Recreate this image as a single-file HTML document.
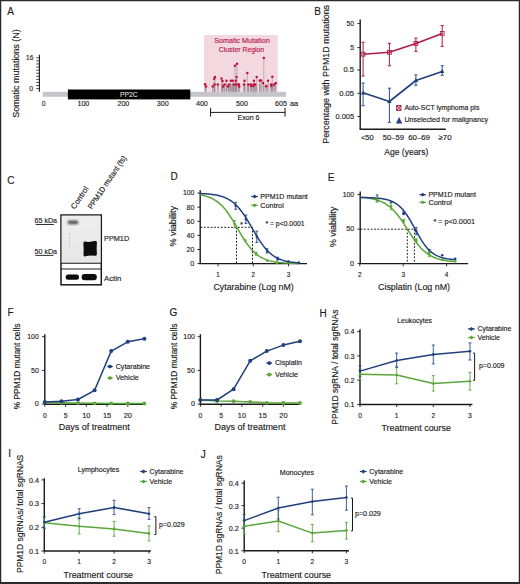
<!DOCTYPE html>
<html><head><meta charset="utf-8"><style>
html,body{margin:0;padding:0;background:#fff;overflow:hidden;}
svg{display:block;}
text{font-family:"Liberation Sans", sans-serif;}
</style></head><body>
<svg width="520" height="584" viewBox="0 0 520 584">
<rect x="0.00" y="0.00" width="520.00" height="584.00" fill="#ffffff" />
<text x="7.30" y="14.50" font-size="10" fill="#1a1a1a" stroke="#1a1a1a" stroke-width="0.15" >A</text>
<text x="18.90" y="73.55" font-size="9.48" fill="#1a1a1a" stroke="#1a1a1a" stroke-width="0.15" text-anchor="middle" textLength="88.50" lengthAdjust="spacingAndGlyphs" transform="rotate(-90 18.90 73.55)" >Somatic mutations (N)</text>
<line x1="39.40" y1="54.80" x2="39.40" y2="91.80" stroke="#1a1a1a" stroke-width="1.1" />
<line x1="36.20" y1="57.80" x2="39.40" y2="57.80" stroke="#1a1a1a" stroke-width="0.8" />
<line x1="36.20" y1="60.88" x2="39.40" y2="60.88" stroke="#1a1a1a" stroke-width="0.8" />
<line x1="36.20" y1="63.96" x2="39.40" y2="63.96" stroke="#1a1a1a" stroke-width="0.8" />
<line x1="36.20" y1="67.04" x2="39.40" y2="67.04" stroke="#1a1a1a" stroke-width="0.8" />
<line x1="36.20" y1="70.12" x2="39.40" y2="70.12" stroke="#1a1a1a" stroke-width="0.8" />
<line x1="36.20" y1="73.20" x2="39.40" y2="73.20" stroke="#1a1a1a" stroke-width="0.8" />
<line x1="36.20" y1="76.28" x2="39.40" y2="76.28" stroke="#1a1a1a" stroke-width="0.8" />
<line x1="36.20" y1="79.36" x2="39.40" y2="79.36" stroke="#1a1a1a" stroke-width="0.8" />
<line x1="36.20" y1="82.44" x2="39.40" y2="82.44" stroke="#1a1a1a" stroke-width="0.8" />
<line x1="36.20" y1="85.52" x2="39.40" y2="85.52" stroke="#1a1a1a" stroke-width="0.8" />
<line x1="36.20" y1="88.60" x2="39.40" y2="88.60" stroke="#1a1a1a" stroke-width="0.8" />
<text x="33.30" y="60.06" font-size="7.6" fill="#1a1a1a" stroke="#1a1a1a" stroke-width="0.15" text-anchor="end" textLength="7.30" lengthAdjust="spacingAndGlyphs" >16</text>
<text x="33.10" y="90.86" font-size="7.6" fill="#1a1a1a" stroke="#1a1a1a" stroke-width="0.15" text-anchor="end" textLength="3.80" lengthAdjust="spacingAndGlyphs" >0</text>
<rect x="42.70" y="91.80" width="243.20" height="5.00" fill="#c5c4c9" />
<rect x="204.00" y="35.00" width="73.70" height="56.80" fill="#f3d8e0" />
<text x="241.90" y="43.36" font-size="7.4" fill="#b5194b" stroke="#b5194b" stroke-width="0.15" text-anchor="middle" textLength="55.50" lengthAdjust="spacingAndGlyphs" >Somatic Mutation</text>
<text x="241.50" y="52.06" font-size="7.05" fill="#b5194b" stroke="#b5194b" stroke-width="0.15" text-anchor="middle" textLength="45.30" lengthAdjust="spacingAndGlyphs" >Cluster Region</text>
<line x1="205.00" y1="84.20" x2="205.00" y2="91.80" stroke="#a89aa0" stroke-width="0.7" />
<line x1="206.00" y1="86.50" x2="206.00" y2="91.80" stroke="#a89aa0" stroke-width="0.7" />
<line x1="212.70" y1="86.50" x2="212.70" y2="91.80" stroke="#a89aa0" stroke-width="0.7" />
<line x1="214.20" y1="78.80" x2="214.20" y2="91.80" stroke="#a89aa0" stroke-width="0.7" />
<line x1="215.00" y1="76.90" x2="215.00" y2="91.80" stroke="#a89aa0" stroke-width="0.7" />
<line x1="214.60" y1="84.60" x2="214.60" y2="91.80" stroke="#a89aa0" stroke-width="0.7" />
<line x1="217.80" y1="84.60" x2="217.80" y2="91.80" stroke="#a89aa0" stroke-width="0.7" />
<line x1="221.50" y1="78.50" x2="221.50" y2="91.80" stroke="#a89aa0" stroke-width="0.7" />
<line x1="222.50" y1="81.00" x2="222.50" y2="91.80" stroke="#a89aa0" stroke-width="0.7" />
<line x1="223.00" y1="86.50" x2="223.00" y2="91.80" stroke="#a89aa0" stroke-width="0.7" />
<line x1="224.50" y1="84.40" x2="224.50" y2="91.80" stroke="#a89aa0" stroke-width="0.7" />
<line x1="226.50" y1="80.80" x2="226.50" y2="91.80" stroke="#a89aa0" stroke-width="0.7" />
<line x1="228.00" y1="86.50" x2="228.00" y2="91.80" stroke="#a89aa0" stroke-width="0.7" />
<line x1="229.00" y1="84.60" x2="229.00" y2="91.80" stroke="#a89aa0" stroke-width="0.7" />
<line x1="230.80" y1="80.80" x2="230.80" y2="91.80" stroke="#a89aa0" stroke-width="0.7" />
<line x1="232.70" y1="80.80" x2="232.70" y2="91.80" stroke="#a89aa0" stroke-width="0.7" />
<line x1="233.80" y1="84.60" x2="233.80" y2="91.80" stroke="#a89aa0" stroke-width="0.7" />
<line x1="235.00" y1="65.80" x2="235.00" y2="91.80" stroke="#a89aa0" stroke-width="0.7" />
<line x1="237.00" y1="63.80" x2="237.00" y2="91.80" stroke="#a89aa0" stroke-width="0.7" />
<line x1="236.50" y1="76.90" x2="236.50" y2="91.80" stroke="#a89aa0" stroke-width="0.7" />
<line x1="235.80" y1="80.80" x2="235.80" y2="91.80" stroke="#a89aa0" stroke-width="0.7" />
<line x1="236.00" y1="84.60" x2="236.00" y2="91.80" stroke="#a89aa0" stroke-width="0.7" />
<line x1="238.50" y1="84.60" x2="238.50" y2="91.80" stroke="#a89aa0" stroke-width="0.7" />
<line x1="239.20" y1="86.50" x2="239.20" y2="91.80" stroke="#a89aa0" stroke-width="0.7" />
<line x1="238.80" y1="84.50" x2="238.80" y2="91.80" stroke="#a89aa0" stroke-width="0.7" />
<line x1="244.50" y1="80.80" x2="244.50" y2="91.80" stroke="#a89aa0" stroke-width="0.7" />
<line x1="244.00" y1="84.50" x2="244.00" y2="91.80" stroke="#a89aa0" stroke-width="0.7" />
<line x1="247.30" y1="72.90" x2="247.30" y2="91.80" stroke="#a89aa0" stroke-width="0.7" />
<line x1="248.50" y1="84.50" x2="248.50" y2="91.80" stroke="#a89aa0" stroke-width="0.7" />
<line x1="251.00" y1="84.50" x2="251.00" y2="91.80" stroke="#a89aa0" stroke-width="0.7" />
<line x1="251.30" y1="86.10" x2="251.30" y2="91.80" stroke="#a89aa0" stroke-width="0.7" />
<line x1="254.00" y1="80.80" x2="254.00" y2="91.80" stroke="#a89aa0" stroke-width="0.7" />
<line x1="253.80" y1="84.50" x2="253.80" y2="91.80" stroke="#a89aa0" stroke-width="0.7" />
<line x1="255.00" y1="84.50" x2="255.00" y2="91.80" stroke="#a89aa0" stroke-width="0.7" />
<line x1="253.30" y1="86.10" x2="253.30" y2="91.80" stroke="#a89aa0" stroke-width="0.7" />
<line x1="256.70" y1="77.00" x2="256.70" y2="91.80" stroke="#a89aa0" stroke-width="0.7" />
<line x1="259.80" y1="80.40" x2="259.80" y2="91.80" stroke="#a89aa0" stroke-width="0.7" />
<line x1="261.00" y1="80.40" x2="261.00" y2="91.80" stroke="#a89aa0" stroke-width="0.7" />
<line x1="263.80" y1="58.10" x2="263.80" y2="91.80" stroke="#a89aa0" stroke-width="0.7" />
<line x1="263.00" y1="82.90" x2="263.00" y2="91.80" stroke="#a89aa0" stroke-width="0.7" />
<line x1="266.10" y1="86.30" x2="266.10" y2="91.80" stroke="#a89aa0" stroke-width="0.7" />
<line x1="268.00" y1="80.80" x2="268.00" y2="91.80" stroke="#a89aa0" stroke-width="0.7" />
<line x1="272.30" y1="76.80" x2="272.30" y2="91.80" stroke="#a89aa0" stroke-width="0.7" />
<line x1="271.10" y1="84.50" x2="271.10" y2="91.80" stroke="#a89aa0" stroke-width="0.7" />
<line x1="274.00" y1="84.50" x2="274.00" y2="91.80" stroke="#a89aa0" stroke-width="0.7" />
<line x1="275.80" y1="82.90" x2="275.80" y2="91.80" stroke="#a89aa0" stroke-width="0.7" />
<line x1="271.50" y1="86.10" x2="271.50" y2="91.80" stroke="#a89aa0" stroke-width="0.7" />
<line x1="205.50" y1="84.00" x2="205.50" y2="91.80" stroke="#8a8088" stroke-width="0.6" />
<line x1="213.00" y1="84.00" x2="213.00" y2="91.80" stroke="#8a8088" stroke-width="0.6" />
<line x1="214.50" y1="84.00" x2="214.50" y2="91.80" stroke="#8a8088" stroke-width="0.6" />
<line x1="218.00" y1="84.00" x2="218.00" y2="91.80" stroke="#8a8088" stroke-width="0.6" />
<line x1="221.80" y1="84.00" x2="221.80" y2="91.80" stroke="#8a8088" stroke-width="0.6" />
<line x1="223.00" y1="84.00" x2="223.00" y2="91.80" stroke="#8a8088" stroke-width="0.6" />
<line x1="225.00" y1="84.00" x2="225.00" y2="91.80" stroke="#8a8088" stroke-width="0.6" />
<line x1="226.50" y1="84.00" x2="226.50" y2="91.80" stroke="#8a8088" stroke-width="0.6" />
<line x1="228.30" y1="84.00" x2="228.30" y2="91.80" stroke="#8a8088" stroke-width="0.6" />
<line x1="229.50" y1="84.00" x2="229.50" y2="91.80" stroke="#8a8088" stroke-width="0.6" />
<line x1="230.50" y1="84.00" x2="230.50" y2="91.80" stroke="#8a8088" stroke-width="0.6" />
<line x1="231.50" y1="84.00" x2="231.50" y2="91.80" stroke="#8a8088" stroke-width="0.6" />
<line x1="232.50" y1="84.00" x2="232.50" y2="91.80" stroke="#8a8088" stroke-width="0.6" />
<line x1="233.50" y1="84.00" x2="233.50" y2="91.80" stroke="#8a8088" stroke-width="0.6" />
<line x1="234.50" y1="84.00" x2="234.50" y2="91.80" stroke="#8a8088" stroke-width="0.6" />
<line x1="235.50" y1="84.00" x2="235.50" y2="91.80" stroke="#8a8088" stroke-width="0.6" />
<line x1="236.50" y1="84.00" x2="236.50" y2="91.80" stroke="#8a8088" stroke-width="0.6" />
<line x1="239.00" y1="84.00" x2="239.00" y2="91.80" stroke="#8a8088" stroke-width="0.6" />
<line x1="244.00" y1="84.00" x2="244.00" y2="91.80" stroke="#8a8088" stroke-width="0.6" />
<line x1="245.00" y1="84.00" x2="245.00" y2="91.80" stroke="#8a8088" stroke-width="0.6" />
<line x1="247.30" y1="84.00" x2="247.30" y2="91.80" stroke="#8a8088" stroke-width="0.6" />
<line x1="248.50" y1="84.00" x2="248.50" y2="91.80" stroke="#8a8088" stroke-width="0.6" />
<line x1="250.00" y1="84.00" x2="250.00" y2="91.80" stroke="#8a8088" stroke-width="0.6" />
<line x1="251.50" y1="84.00" x2="251.50" y2="91.80" stroke="#8a8088" stroke-width="0.6" />
<line x1="253.00" y1="84.00" x2="253.00" y2="91.80" stroke="#8a8088" stroke-width="0.6" />
<line x1="254.00" y1="84.00" x2="254.00" y2="91.80" stroke="#8a8088" stroke-width="0.6" />
<line x1="255.50" y1="84.00" x2="255.50" y2="91.80" stroke="#8a8088" stroke-width="0.6" />
<line x1="256.70" y1="84.00" x2="256.70" y2="91.80" stroke="#8a8088" stroke-width="0.6" />
<line x1="259.50" y1="84.00" x2="259.50" y2="91.80" stroke="#8a8088" stroke-width="0.6" />
<line x1="261.00" y1="84.00" x2="261.00" y2="91.80" stroke="#8a8088" stroke-width="0.6" />
<line x1="263.80" y1="84.00" x2="263.80" y2="91.80" stroke="#8a8088" stroke-width="0.6" />
<line x1="266.00" y1="84.00" x2="266.00" y2="91.80" stroke="#8a8088" stroke-width="0.6" />
<line x1="268.00" y1="84.00" x2="268.00" y2="91.80" stroke="#8a8088" stroke-width="0.6" />
<line x1="271.00" y1="84.00" x2="271.00" y2="91.80" stroke="#8a8088" stroke-width="0.6" />
<line x1="272.30" y1="84.00" x2="272.30" y2="91.80" stroke="#8a8088" stroke-width="0.6" />
<line x1="274.00" y1="84.00" x2="274.00" y2="91.80" stroke="#8a8088" stroke-width="0.6" />
<line x1="275.50" y1="84.00" x2="275.50" y2="91.80" stroke="#8a8088" stroke-width="0.6" />
<circle cx="205.00" cy="84.20" r="1.25" fill="#c0103c" />
<circle cx="206.00" cy="86.50" r="1.25" fill="#c0103c" />
<circle cx="212.70" cy="86.50" r="1.25" fill="#c0103c" />
<circle cx="214.20" cy="78.80" r="1.25" fill="#c0103c" />
<circle cx="215.00" cy="76.90" r="1.25" fill="#c0103c" />
<circle cx="214.60" cy="84.60" r="1.25" fill="#c0103c" />
<circle cx="217.80" cy="84.60" r="1.25" fill="#c0103c" />
<circle cx="221.50" cy="78.50" r="1.25" fill="#c0103c" />
<circle cx="222.50" cy="81.00" r="1.25" fill="#c0103c" />
<circle cx="223.00" cy="86.50" r="1.25" fill="#c0103c" />
<circle cx="224.50" cy="84.40" r="1.25" fill="#c0103c" />
<circle cx="226.50" cy="80.80" r="1.25" fill="#c0103c" />
<circle cx="228.00" cy="86.50" r="1.25" fill="#c0103c" />
<circle cx="229.00" cy="84.60" r="1.25" fill="#c0103c" />
<circle cx="230.80" cy="80.80" r="1.25" fill="#c0103c" />
<circle cx="232.70" cy="80.80" r="1.25" fill="#c0103c" />
<circle cx="233.80" cy="84.60" r="1.25" fill="#c0103c" />
<circle cx="235.00" cy="65.80" r="1.25" fill="#c0103c" />
<circle cx="237.00" cy="63.80" r="1.25" fill="#c0103c" />
<circle cx="236.50" cy="76.90" r="1.25" fill="#c0103c" />
<circle cx="235.80" cy="80.80" r="1.25" fill="#c0103c" />
<circle cx="236.00" cy="84.60" r="1.25" fill="#c0103c" />
<circle cx="238.50" cy="84.60" r="1.25" fill="#c0103c" />
<circle cx="239.20" cy="86.50" r="1.25" fill="#c0103c" />
<circle cx="238.80" cy="84.50" r="1.25" fill="#c0103c" />
<circle cx="244.50" cy="80.80" r="1.25" fill="#c0103c" />
<circle cx="244.00" cy="84.50" r="1.25" fill="#c0103c" />
<circle cx="247.30" cy="72.90" r="1.25" fill="#c0103c" />
<circle cx="248.50" cy="84.50" r="1.25" fill="#c0103c" />
<circle cx="251.00" cy="84.50" r="1.25" fill="#c0103c" />
<circle cx="251.30" cy="86.10" r="1.25" fill="#c0103c" />
<circle cx="254.00" cy="80.80" r="1.25" fill="#c0103c" />
<circle cx="253.80" cy="84.50" r="1.25" fill="#c0103c" />
<circle cx="255.00" cy="84.50" r="1.25" fill="#c0103c" />
<circle cx="253.30" cy="86.10" r="1.25" fill="#c0103c" />
<circle cx="256.70" cy="77.00" r="1.25" fill="#c0103c" />
<circle cx="259.80" cy="80.40" r="1.25" fill="#c0103c" />
<circle cx="261.00" cy="80.40" r="1.25" fill="#c0103c" />
<circle cx="263.80" cy="58.10" r="1.25" fill="#c0103c" />
<circle cx="263.00" cy="82.90" r="1.25" fill="#c0103c" />
<circle cx="266.10" cy="86.30" r="1.25" fill="#c0103c" />
<circle cx="268.00" cy="80.80" r="1.25" fill="#c0103c" />
<circle cx="272.30" cy="76.80" r="1.25" fill="#c0103c" />
<circle cx="271.10" cy="84.50" r="1.25" fill="#c0103c" />
<circle cx="274.00" cy="84.50" r="1.25" fill="#c0103c" />
<circle cx="275.80" cy="82.90" r="1.25" fill="#c0103c" />
<circle cx="271.50" cy="86.10" r="1.25" fill="#c0103c" />
<rect x="67.90" y="89.50" width="122.40" height="9.90" fill="#000000" />
<text x="128.80" y="96.86" font-size="6.9" fill="#d8d8d8" stroke="#d8d8d8" stroke-width="0.15" text-anchor="middle" textLength="17.50" lengthAdjust="spacingAndGlyphs" >PP2C</text>
<text x="43.60" y="106.46" font-size="7.6" fill="#1a1a1a" stroke="#1a1a1a" stroke-width="0.15" text-anchor="middle" textLength="3.80" lengthAdjust="spacingAndGlyphs" >0</text>
<text x="83.40" y="106.46" font-size="7.6" fill="#1a1a1a" stroke="#1a1a1a" stroke-width="0.15" text-anchor="middle" textLength="11.90" lengthAdjust="spacingAndGlyphs" >100</text>
<text x="123.40" y="106.46" font-size="7.6" fill="#1a1a1a" stroke="#1a1a1a" stroke-width="0.15" text-anchor="middle" textLength="11.90" lengthAdjust="spacingAndGlyphs" >200</text>
<text x="162.80" y="106.46" font-size="7.6" fill="#1a1a1a" stroke="#1a1a1a" stroke-width="0.15" text-anchor="middle" textLength="11.90" lengthAdjust="spacingAndGlyphs" >300</text>
<text x="201.90" y="106.46" font-size="7.6" fill="#1a1a1a" stroke="#1a1a1a" stroke-width="0.15" text-anchor="middle" textLength="11.90" lengthAdjust="spacingAndGlyphs" >400</text>
<text x="242.00" y="106.46" font-size="7.6" fill="#1a1a1a" stroke="#1a1a1a" stroke-width="0.15" text-anchor="middle" textLength="11.90" lengthAdjust="spacingAndGlyphs" >500</text>
<text x="281.00" y="106.46" font-size="7.6" fill="#1a1a1a" stroke="#1a1a1a" stroke-width="0.15" text-anchor="middle" textLength="11.90" lengthAdjust="spacingAndGlyphs" >605</text>
<text x="290.00" y="106.46" font-size="7.59" fill="#1a1a1a" stroke="#1a1a1a" stroke-width="0.15" textLength="8.20" lengthAdjust="spacingAndGlyphs" >aa</text>
<line x1="210.10" y1="112.40" x2="285.40" y2="112.40" stroke="#1a1a1a" stroke-width="1" />
<line x1="210.60" y1="107.80" x2="210.60" y2="116.60" stroke="#1a1a1a" stroke-width="1" />
<line x1="285.00" y1="107.80" x2="285.00" y2="116.60" stroke="#1a1a1a" stroke-width="1" />
<text x="248.50" y="120.02" font-size="7.28" fill="#1a1a1a" stroke="#1a1a1a" stroke-width="0.15" text-anchor="middle" textLength="22.00" lengthAdjust="spacingAndGlyphs" >Exon 6</text>
<text x="314.20" y="14.80" font-size="10" fill="#1a1a1a" stroke="#1a1a1a" stroke-width="0.15" >B</text>
<text x="328.80" y="74.30" font-size="9.49" fill="#1a1a1a" stroke="#1a1a1a" stroke-width="0.15" text-anchor="middle" textLength="138.80" lengthAdjust="spacingAndGlyphs" transform="rotate(-90 328.80 74.30)" >Percentage with PPM1D mutations</text>
<line x1="360.20" y1="19.50" x2="360.20" y2="129.20" stroke="#1a1a1a" stroke-width="1.4" />
<line x1="359.60" y1="129.20" x2="445.80" y2="129.20" stroke="#1a1a1a" stroke-width="1.4" />
<line x1="357.40" y1="23.60" x2="360.20" y2="23.60" stroke="#1a1a1a" stroke-width="0.9" />
<text x="354.00" y="25.86" font-size="7.6" fill="#1a1a1a" stroke="#1a1a1a" stroke-width="0.15" text-anchor="end" textLength="7.50" lengthAdjust="spacingAndGlyphs" >50</text>
<line x1="357.40" y1="47.60" x2="360.20" y2="47.60" stroke="#1a1a1a" stroke-width="0.9" />
<text x="354.00" y="49.86" font-size="7.6" fill="#1a1a1a" stroke="#1a1a1a" stroke-width="0.15" text-anchor="end" textLength="3.80" lengthAdjust="spacingAndGlyphs" >5</text>
<line x1="357.40" y1="70.00" x2="360.20" y2="70.00" stroke="#1a1a1a" stroke-width="0.9" />
<text x="354.00" y="72.26" font-size="7.6" fill="#1a1a1a" stroke="#1a1a1a" stroke-width="0.15" text-anchor="end" textLength="10.50" lengthAdjust="spacingAndGlyphs" >0.5</text>
<line x1="357.40" y1="93.30" x2="360.20" y2="93.30" stroke="#1a1a1a" stroke-width="0.9" />
<text x="354.00" y="95.56" font-size="7.6" fill="#1a1a1a" stroke="#1a1a1a" stroke-width="0.15" text-anchor="end" textLength="14.80" lengthAdjust="spacingAndGlyphs" >0.05</text>
<line x1="357.40" y1="116.50" x2="360.20" y2="116.50" stroke="#1a1a1a" stroke-width="0.9" />
<text x="354.00" y="118.76" font-size="7.6" fill="#1a1a1a" stroke="#1a1a1a" stroke-width="0.15" text-anchor="end" textLength="18.50" lengthAdjust="spacingAndGlyphs" >0.005</text>
<line x1="363.10" y1="42.30" x2="363.10" y2="76.00" stroke="#b01a48" stroke-width="1.0" />
<line x1="361.50" y1="42.30" x2="364.70" y2="42.30" stroke="#b01a48" stroke-width="1.0" />
<line x1="361.50" y1="76.00" x2="364.70" y2="76.00" stroke="#b01a48" stroke-width="1.0" />
<line x1="363.10" y1="83.10" x2="363.10" y2="105.70" stroke="#2a4f8e" stroke-width="1.0" />
<line x1="361.50" y1="83.10" x2="364.70" y2="83.10" stroke="#2a4f8e" stroke-width="1.0" />
<line x1="361.50" y1="105.70" x2="364.70" y2="105.70" stroke="#2a4f8e" stroke-width="1.0" />
<line x1="389.40" y1="43.30" x2="389.40" y2="65.80" stroke="#b01a48" stroke-width="1.0" />
<line x1="387.80" y1="43.30" x2="391.00" y2="43.30" stroke="#b01a48" stroke-width="1.0" />
<line x1="387.80" y1="65.80" x2="391.00" y2="65.80" stroke="#b01a48" stroke-width="1.0" />
<line x1="389.40" y1="88.20" x2="389.40" y2="122.30" stroke="#2a4f8e" stroke-width="1.0" />
<line x1="387.80" y1="88.20" x2="391.00" y2="88.20" stroke="#2a4f8e" stroke-width="1.0" />
<line x1="387.80" y1="122.30" x2="391.00" y2="122.30" stroke="#2a4f8e" stroke-width="1.0" />
<line x1="415.90" y1="38.00" x2="415.90" y2="51.40" stroke="#b01a48" stroke-width="1.0" />
<line x1="414.30" y1="38.00" x2="417.50" y2="38.00" stroke="#b01a48" stroke-width="1.0" />
<line x1="414.30" y1="51.40" x2="417.50" y2="51.40" stroke="#b01a48" stroke-width="1.0" />
<line x1="415.90" y1="74.90" x2="415.90" y2="85.30" stroke="#2a4f8e" stroke-width="1.0" />
<line x1="414.30" y1="74.90" x2="417.50" y2="74.90" stroke="#2a4f8e" stroke-width="1.0" />
<line x1="414.30" y1="85.30" x2="417.50" y2="85.30" stroke="#2a4f8e" stroke-width="1.0" />
<line x1="442.20" y1="25.60" x2="442.20" y2="46.30" stroke="#b01a48" stroke-width="1.0" />
<line x1="440.60" y1="25.60" x2="443.80" y2="25.60" stroke="#b01a48" stroke-width="1.0" />
<line x1="440.60" y1="46.30" x2="443.80" y2="46.30" stroke="#b01a48" stroke-width="1.0" />
<line x1="442.20" y1="65.70" x2="442.20" y2="75.30" stroke="#2a4f8e" stroke-width="1.0" />
<line x1="440.60" y1="65.70" x2="443.80" y2="65.70" stroke="#2a4f8e" stroke-width="1.0" />
<line x1="440.60" y1="75.30" x2="443.80" y2="75.30" stroke="#2a4f8e" stroke-width="1.0" />
<polyline points="363.10,54.20 389.40,52.30 415.90,43.40 442.20,33.40" fill="none" stroke="#b01a48" stroke-width="1.6" stroke-linejoin="round" />
<polyline points="363.10,92.80 389.40,101.50 415.90,80.50 442.20,71.50" fill="none" stroke="#213f7e" stroke-width="1.6" stroke-linejoin="round" />
<rect x="361.20" y="52.30" width="3.8" height="3.8" fill="none" stroke="#b01a48" stroke-width="0.9"/>
<path d="M363.10,90.40 L365.30,94.40 L360.90,94.40 Z" fill="#213f7e"/>
<rect x="387.50" y="50.40" width="3.8" height="3.8" fill="none" stroke="#b01a48" stroke-width="0.9"/>
<path d="M389.40,99.10 L391.60,103.10 L387.20,103.10 Z" fill="#213f7e"/>
<rect x="414.00" y="41.50" width="3.8" height="3.8" fill="none" stroke="#b01a48" stroke-width="0.9"/>
<path d="M415.90,78.10 L418.10,82.10 L413.70,82.10 Z" fill="#213f7e"/>
<rect x="440.30" y="31.50" width="3.8" height="3.8" fill="none" stroke="#b01a48" stroke-width="0.9"/>
<path d="M442.20,69.10 L444.40,73.10 L440.00,73.10 Z" fill="#213f7e"/>
<rect x="396.10" y="105.00" width="5.30" height="5.80" fill="#b01a48" />
<circle cx="398.75" cy="106.50" r="0.75" fill="#ffffff" />
<circle cx="397.40" cy="107.90" r="0.75" fill="#ffffff" />
<circle cx="400.10" cy="107.90" r="0.75" fill="#ffffff" />
<circle cx="398.75" cy="109.30" r="0.75" fill="#ffffff" />
<path d="M399.1,116.9 L402.2,123.4 L396.0,123.4 Z" fill="#213f7e"/>
<text x="404.40" y="110.26" font-size="7.1" fill="#1a1a1a" stroke="#1a1a1a" stroke-width="0.15" textLength="75.00" lengthAdjust="spacingAndGlyphs" >Auto-SCT lymphoma pts</text>
<text x="404.40" y="121.96" font-size="7.31" fill="#1a1a1a" stroke="#1a1a1a" stroke-width="0.15" textLength="83.60" lengthAdjust="spacingAndGlyphs" >Unselected for malignancy</text>
<text x="367.30" y="140.32" font-size="7.5" fill="#1a1a1a" stroke="#1a1a1a" stroke-width="0.15" text-anchor="middle" textLength="12.70" lengthAdjust="spacingAndGlyphs" >&lt;50</text>
<text x="393.40" y="140.32" font-size="7.5" fill="#1a1a1a" stroke="#1a1a1a" stroke-width="0.15" text-anchor="middle" textLength="21.20" lengthAdjust="spacingAndGlyphs" >50–59</text>
<text x="419.10" y="140.32" font-size="7.5" fill="#1a1a1a" stroke="#1a1a1a" stroke-width="0.15" text-anchor="middle" textLength="21.80" lengthAdjust="spacingAndGlyphs" >60–69</text>
<text x="445.00" y="140.32" font-size="7.5" fill="#1a1a1a" stroke="#1a1a1a" stroke-width="0.15" text-anchor="middle" textLength="13.10" lengthAdjust="spacingAndGlyphs" >≥70</text>
<text x="406.30" y="154.61" font-size="9.02" fill="#1a1a1a" stroke="#1a1a1a" stroke-width="0.15" text-anchor="middle" textLength="44.00" lengthAdjust="spacingAndGlyphs" >Age (years)</text>
<text x="7.20" y="184.00" font-size="10" fill="#1a1a1a" stroke="#1a1a1a" stroke-width="0.15" >C</text>
<rect x="61.00" y="215.00" width="40.30" height="69.80" fill="#ffffff" stroke="#1a1a1a" stroke-width="1.5"/>
<defs><linearGradient id="blotg" x1="0" y1="0" x2="0" y2="1"><stop offset="0" stop-color="#eeeeee"/><stop offset="1" stop-color="#e6e6e6"/></linearGradient></defs>
<rect x="61.70" y="215.70" width="38.80" height="47.60" fill="url(#blotg)" />
<line x1="61.00" y1="263.20" x2="101.20" y2="263.20" stroke="#1a1a1a" stroke-width="1.1" />
<line x1="61.00" y1="269.00" x2="101.20" y2="269.00" stroke="#1a1a1a" stroke-width="1.1" />
<defs><filter id="bl1" x="-50%" y="-50%" width="200%" height="200%"><feGaussianBlur stdDeviation="0.9"/></filter><filter id="bl2" x="-50%" y="-50%" width="200%" height="200%"><feGaussianBlur stdDeviation="0.5"/></filter></defs>
<rect x="67.6" y="220.6" width="10.6" height="3.6" rx="1.5" fill="#555" filter="url(#bl1)"/>
<path d="M84.6,241.6 Q90,242.6 95.6,240.8 Q97.2,241 96.9,243 Q96.3,248 96.9,253.5 Q97,255.6 95.5,255.7 Q90,254.8 84.6,256.4 Q83.3,256.2 83.5,254 Q83.9,248.5 83.4,243.5 Q83.4,241.8 84.6,241.6 Z" fill="#0a0a0a" filter="url(#bl2)"/>
<line x1="69.5" y1="233" x2="69.8" y2="247.5" stroke="#aaaaaa" stroke-width="0.6" stroke-dasharray="2,1.5" filter="url(#bl2)"/>
<rect x="65.7" y="274.4" width="13.3" height="5.4" rx="2.5" fill="#0c0c0c" filter="url(#bl2)"/>
<rect x="81.7" y="273.9" width="15.1" height="6.4" rx="2.8" fill="#0c0c0c" filter="url(#bl2)"/>
<text x="34.50" y="223.20" font-size="7.9" fill="#1a1a1a" stroke="#1a1a1a" stroke-width="0.15" textLength="22.60" lengthAdjust="spacingAndGlyphs" >65 kDa</text>
<line x1="35.60" y1="224.50" x2="53.90" y2="224.50" stroke="#1a1a1a" stroke-width="0.9" />
<text x="34.50" y="254.00" font-size="7.9" fill="#1a1a1a" stroke="#1a1a1a" stroke-width="0.15" textLength="22.60" lengthAdjust="spacingAndGlyphs" >50 kDa</text>
<line x1="35.30" y1="255.40" x2="53.50" y2="255.40" stroke="#1a1a1a" stroke-width="0.9" />
<text x="104.00" y="241.26" font-size="7.53" fill="#1a1a1a" stroke="#1a1a1a" stroke-width="0.15" textLength="25.20" lengthAdjust="spacingAndGlyphs" >PPM1D</text>
<text x="104.00" y="281.46" font-size="7.97" fill="#1a1a1a" stroke="#1a1a1a" stroke-width="0.15" textLength="17.20" lengthAdjust="spacingAndGlyphs" >Actin</text>
<text x="74.80" y="209.80" font-size="7.9" fill="#1a1a1a" stroke="#1a1a1a" stroke-width="0.15" textLength="25.50" lengthAdjust="spacingAndGlyphs" transform="rotate(-56 74.80 209.80)" >Control</text>
<text x="91.80" y="209.80" font-size="7.9" fill="#1a1a1a" stroke="#1a1a1a" stroke-width="0.15" textLength="62.50" lengthAdjust="spacingAndGlyphs" transform="rotate(-56 91.80 209.80)" >PPM1D mutant (fs)</text>
<text x="170.60" y="180.00" font-size="10" fill="#1a1a1a" stroke="#1a1a1a" stroke-width="0.15" >D</text>
<text x="176.10" y="226.20" font-size="9.73" fill="#1a1a1a" stroke="#1a1a1a" stroke-width="0.15" text-anchor="middle" textLength="40.80" lengthAdjust="spacingAndGlyphs" transform="rotate(-90 176.10 226.20)" >% viability</text>
<line x1="200.20" y1="190.20" x2="200.20" y2="263.60" stroke="#1a1a1a" stroke-width="1.4" />
<line x1="199.60" y1="263.60" x2="307.00" y2="263.60" stroke="#1a1a1a" stroke-width="1.4" />
<line x1="197.40" y1="193.10" x2="200.20" y2="193.10" stroke="#1a1a1a" stroke-width="0.9" />
<text x="194.30" y="195.46" font-size="7.9" fill="#1a1a1a" stroke="#1a1a1a" stroke-width="0.15" text-anchor="end" textLength="11.40" lengthAdjust="spacingAndGlyphs" >100</text>
<line x1="197.40" y1="207.20" x2="200.20" y2="207.20" stroke="#1a1a1a" stroke-width="0.9" />
<text x="194.30" y="209.56" font-size="7.9" fill="#1a1a1a" stroke="#1a1a1a" stroke-width="0.15" text-anchor="end" textLength="7.80" lengthAdjust="spacingAndGlyphs" >80</text>
<line x1="197.40" y1="221.30" x2="200.20" y2="221.30" stroke="#1a1a1a" stroke-width="0.9" />
<text x="194.30" y="223.66" font-size="7.9" fill="#1a1a1a" stroke="#1a1a1a" stroke-width="0.15" text-anchor="end" textLength="7.80" lengthAdjust="spacingAndGlyphs" >60</text>
<line x1="197.40" y1="235.40" x2="200.20" y2="235.40" stroke="#1a1a1a" stroke-width="0.9" />
<text x="194.30" y="237.76" font-size="7.9" fill="#1a1a1a" stroke="#1a1a1a" stroke-width="0.15" text-anchor="end" textLength="7.80" lengthAdjust="spacingAndGlyphs" >40</text>
<line x1="197.40" y1="249.50" x2="200.20" y2="249.50" stroke="#1a1a1a" stroke-width="0.9" />
<text x="194.30" y="251.86" font-size="7.9" fill="#1a1a1a" stroke="#1a1a1a" stroke-width="0.15" text-anchor="end" textLength="7.80" lengthAdjust="spacingAndGlyphs" >20</text>
<line x1="197.40" y1="263.60" x2="200.20" y2="263.60" stroke="#1a1a1a" stroke-width="0.9" />
<text x="194.30" y="265.97" font-size="7.9" fill="#1a1a1a" stroke="#1a1a1a" stroke-width="0.15" text-anchor="end" textLength="4.00" lengthAdjust="spacingAndGlyphs" >0</text>
<line x1="218.10" y1="263.60" x2="218.10" y2="266.30" stroke="#1a1a1a" stroke-width="0.9" />
<text x="218.10" y="276.80" font-size="8.0" fill="#1a1a1a" stroke="#1a1a1a" stroke-width="0.15" text-anchor="middle" textLength="3.50" lengthAdjust="spacingAndGlyphs" >1</text>
<line x1="253.30" y1="263.60" x2="253.30" y2="266.30" stroke="#1a1a1a" stroke-width="0.9" />
<text x="253.30" y="276.80" font-size="8.0" fill="#1a1a1a" stroke="#1a1a1a" stroke-width="0.15" text-anchor="middle" textLength="3.50" lengthAdjust="spacingAndGlyphs" >2</text>
<line x1="288.50" y1="263.60" x2="288.50" y2="266.30" stroke="#1a1a1a" stroke-width="0.9" />
<text x="288.50" y="276.80" font-size="8.0" fill="#1a1a1a" stroke="#1a1a1a" stroke-width="0.15" text-anchor="middle" textLength="3.50" lengthAdjust="spacingAndGlyphs" >3</text>
<text x="253.60" y="290.31" font-size="9.34" fill="#1a1a1a" stroke="#1a1a1a" stroke-width="0.15" text-anchor="middle" textLength="80.30" lengthAdjust="spacingAndGlyphs" >Cytarabine (Log nM)</text>
<path d="M200.5,227.3 H252.5 M236.5,227.3 V263 M252.5,227.3 V263" stroke="#1a1a1a" stroke-width="1" stroke-dasharray="1.8,1.6" fill="none"/>
<polyline points="200.01,194.84 201.25,195.06 202.48,195.31 203.72,195.58 204.96,195.89 206.20,196.24 207.44,196.62 208.67,197.05 209.91,197.53 211.15,198.06 212.39,198.65 213.63,199.30 214.87,200.03 216.10,200.82 217.34,201.70 218.58,202.66 219.82,203.71 221.06,204.85 222.29,206.09 223.53,207.42 224.77,208.86 226.01,210.40 227.25,212.03 228.48,213.76 229.72,215.58 230.96,217.48 232.20,219.45 233.44,221.48 234.68,223.56 235.91,225.68 237.15,227.82 238.39,229.96 239.63,232.09 240.87,234.19 242.10,236.25 243.34,238.25 244.58,240.19 245.82,242.05 247.06,243.82 248.30,245.50 249.53,247.09 250.77,248.57 252.01,249.96 253.25,251.25 254.49,252.44 255.72,253.53 256.96,254.54 258.20,255.45 259.44,256.29 260.68,257.05 261.92,257.73 263.15,258.36 264.39,258.92 265.63,259.42 266.87,259.87 268.11,260.28 269.34,260.64 270.58,260.97 271.82,261.26 273.06,261.52 274.30,261.75 275.53,261.96 276.77,262.14 278.01,262.31 279.25,262.45 280.49,262.58 281.73,262.70 282.96,262.80 284.20,262.89 285.44,262.97 286.68,263.04 287.92,263.10 289.15,263.16 290.39,263.21 291.63,263.26 292.87,263.29 294.11,263.33 295.35,263.36 296.58,263.39 297.82,263.41 299.06,263.43" fill="none" stroke="#5aa63a" stroke-width="1.5" stroke-linejoin="round" />
<polyline points="200.01,193.52 201.25,193.57 202.48,193.63 203.72,193.70 204.96,193.77 206.20,193.86 207.44,193.96 208.67,194.07 209.91,194.19 211.15,194.33 212.39,194.48 213.63,194.66 214.87,194.86 216.10,195.08 217.34,195.32 218.58,195.60 219.82,195.91 221.06,196.26 222.29,196.64 223.53,197.08 224.77,197.56 226.01,198.09 227.25,198.69 228.48,199.34 229.72,200.07 230.96,200.87 232.20,201.75 233.44,202.72 234.68,203.77 235.91,204.92 237.15,206.16 238.39,207.51 239.63,208.95 240.87,210.49 242.10,212.13 243.34,213.87 244.58,215.69 245.82,217.59 247.06,219.57 248.30,221.61 249.53,223.69 250.77,225.81 252.01,227.95 253.25,230.09 254.49,232.21 255.72,234.31 256.96,236.37 258.20,238.37 259.44,240.30 260.68,242.16 261.92,243.92 263.15,245.60 264.39,247.18 265.63,248.66 266.87,250.04 268.11,251.32 269.34,252.51 270.58,253.59 271.82,254.59 273.06,255.50 274.30,256.34 275.53,257.09 276.77,257.77 278.01,258.39 279.25,258.95 280.49,259.45 281.73,259.90 282.96,260.30 284.20,260.66 285.44,260.99 286.68,261.28 287.92,261.53 289.15,261.76 290.39,261.97 291.63,262.15 292.87,262.31 294.11,262.46 295.35,262.59 296.58,262.70 297.82,262.80 299.06,262.89" fill="none" stroke="#213f7e" stroke-width="1.5" stroke-linejoin="round" />
<line x1="235.70" y1="202.27" x2="235.70" y2="209.32" stroke="#213f7e" stroke-width="0.9" />
<line x1="234.30" y1="202.27" x2="237.10" y2="202.27" stroke="#213f7e" stroke-width="0.9" />
<line x1="234.30" y1="209.32" x2="237.10" y2="209.32" stroke="#213f7e" stroke-width="0.9" />
<circle cx="235.70" cy="205.79" r="1.3" fill="#213f7e" />
<line x1="245.91" y1="214.96" x2="245.91" y2="223.42" stroke="#213f7e" stroke-width="0.9" />
<line x1="244.51" y1="214.96" x2="247.31" y2="214.96" stroke="#213f7e" stroke-width="0.9" />
<line x1="244.51" y1="223.42" x2="247.31" y2="223.42" stroke="#213f7e" stroke-width="0.9" />
<circle cx="245.91" cy="219.19" r="1.3" fill="#213f7e" />
<line x1="256.82" y1="231.17" x2="256.82" y2="242.45" stroke="#213f7e" stroke-width="0.9" />
<line x1="255.42" y1="231.17" x2="258.22" y2="231.17" stroke="#213f7e" stroke-width="0.9" />
<line x1="255.42" y1="242.45" x2="258.22" y2="242.45" stroke="#213f7e" stroke-width="0.9" />
<circle cx="256.82" cy="236.81" r="1.3" fill="#213f7e" />
<line x1="267.03" y1="248.80" x2="267.03" y2="253.03" stroke="#213f7e" stroke-width="0.9" />
<line x1="265.63" y1="248.80" x2="268.43" y2="248.80" stroke="#213f7e" stroke-width="0.9" />
<line x1="265.63" y1="253.03" x2="268.43" y2="253.03" stroke="#213f7e" stroke-width="0.9" />
<circle cx="267.03" cy="250.91" r="1.3" fill="#213f7e" />
<line x1="277.59" y1="257.25" x2="277.59" y2="260.08" stroke="#213f7e" stroke-width="0.9" />
<line x1="276.19" y1="257.25" x2="278.99" y2="257.25" stroke="#213f7e" stroke-width="0.9" />
<line x1="276.19" y1="260.08" x2="278.99" y2="260.08" stroke="#213f7e" stroke-width="0.9" />
<circle cx="277.59" cy="258.67" r="1.3" fill="#213f7e" />
<circle cx="288.50" cy="261.49" r="1.3" fill="#213f7e" />
<circle cx="298.71" cy="262.54" r="1.3" fill="#213f7e" />
<line x1="234.64" y1="220.60" x2="234.64" y2="227.65" stroke="#5aa63a" stroke-width="0.9" />
<line x1="233.24" y1="220.60" x2="236.04" y2="220.60" stroke="#5aa63a" stroke-width="0.9" />
<line x1="233.24" y1="227.65" x2="236.04" y2="227.65" stroke="#5aa63a" stroke-width="0.9" />
<circle cx="234.64" cy="224.12" r="1.3" fill="#5aa63a" />
<circle cx="245.20" cy="240.34" r="1.3" fill="#5aa63a" />
<line x1="256.12" y1="252.32" x2="256.12" y2="255.14" stroke="#5aa63a" stroke-width="0.9" />
<line x1="254.72" y1="252.32" x2="257.52" y2="252.32" stroke="#5aa63a" stroke-width="0.9" />
<line x1="254.72" y1="255.14" x2="257.52" y2="255.14" stroke="#5aa63a" stroke-width="0.9" />
<circle cx="256.12" cy="253.73" r="1.3" fill="#5aa63a" />
<circle cx="267.38" cy="260.78" r="1.3" fill="#5aa63a" />
<circle cx="276.88" cy="262.90" r="1.3" fill="#5aa63a" />
<text x="241.50" y="226.50" font-size="6.5" fill="#1a1a1a" stroke="#1a1a1a" stroke-width="0.15" text-anchor="middle" >*</text>
<line x1="251.20" y1="196.50" x2="257.90" y2="196.50" stroke="#213f7e" stroke-width="1.2" />
<path d="M254.6,194.6 L257.0,196.5 L254.6,198.4 L252.2,196.5 Z" fill="#213f7e"/>
<line x1="251.20" y1="205.30" x2="257.90" y2="205.30" stroke="#5aa63a" stroke-width="1.2" />
<path d="M254.6,203.4 L257.0,205.3 L254.6,207.2 L252.2,205.3 Z" fill="#5aa63a"/>
<text x="260.30" y="198.76" font-size="7.22" fill="#1a1a1a" stroke="#1a1a1a" stroke-width="0.15" textLength="47.50" lengthAdjust="spacingAndGlyphs" >PPM1D mutant</text>
<text x="260.30" y="207.56" font-size="7.51" fill="#1a1a1a" stroke="#1a1a1a" stroke-width="0.15" textLength="23.50" lengthAdjust="spacingAndGlyphs" >Control</text>
<text x="265.40" y="225.85" font-size="7.05" fill="#1a1a1a" stroke="#1a1a1a" stroke-width="0.15" textLength="39.20" lengthAdjust="spacingAndGlyphs" >* = p&lt;0.0001</text>
<text x="327.70" y="181.00" font-size="10" fill="#1a1a1a" stroke="#1a1a1a" stroke-width="0.15" >E</text>
<text x="336.10" y="227.00" font-size="9.7" fill="#1a1a1a" stroke="#1a1a1a" stroke-width="0.15" text-anchor="middle" textLength="40.70" lengthAdjust="spacingAndGlyphs" transform="rotate(-90 336.10 227.00)" >% viability</text>
<line x1="360.20" y1="191.50" x2="360.20" y2="263.60" stroke="#1a1a1a" stroke-width="1.4" />
<line x1="359.60" y1="263.60" x2="468.10" y2="263.60" stroke="#1a1a1a" stroke-width="1.4" />
<line x1="357.40" y1="194.60" x2="360.20" y2="194.60" stroke="#1a1a1a" stroke-width="0.9" />
<text x="354.10" y="196.96" font-size="7.9" fill="#1a1a1a" stroke="#1a1a1a" stroke-width="0.15" text-anchor="end" textLength="11.40" lengthAdjust="spacingAndGlyphs" >100</text>
<line x1="357.40" y1="229.10" x2="360.20" y2="229.10" stroke="#1a1a1a" stroke-width="0.9" />
<text x="354.10" y="231.47" font-size="7.9" fill="#1a1a1a" stroke="#1a1a1a" stroke-width="0.15" text-anchor="end" textLength="7.90" lengthAdjust="spacingAndGlyphs" >50</text>
<line x1="357.40" y1="263.60" x2="360.20" y2="263.60" stroke="#1a1a1a" stroke-width="0.9" />
<text x="354.10" y="265.97" font-size="7.9" fill="#1a1a1a" stroke="#1a1a1a" stroke-width="0.15" text-anchor="end" textLength="4.00" lengthAdjust="spacingAndGlyphs" >0</text>
<line x1="359.80" y1="263.60" x2="359.80" y2="266.30" stroke="#1a1a1a" stroke-width="0.9" />
<text x="359.80" y="276.80" font-size="8.0" fill="#1a1a1a" stroke="#1a1a1a" stroke-width="0.15" text-anchor="middle" textLength="3.60" lengthAdjust="spacingAndGlyphs" >2</text>
<line x1="403.20" y1="263.60" x2="403.20" y2="266.30" stroke="#1a1a1a" stroke-width="0.9" />
<text x="403.20" y="276.80" font-size="8.0" fill="#1a1a1a" stroke="#1a1a1a" stroke-width="0.15" text-anchor="middle" textLength="3.60" lengthAdjust="spacingAndGlyphs" >3</text>
<line x1="446.60" y1="263.60" x2="446.60" y2="266.30" stroke="#1a1a1a" stroke-width="0.9" />
<text x="446.60" y="276.80" font-size="8.0" fill="#1a1a1a" stroke="#1a1a1a" stroke-width="0.15" text-anchor="middle" textLength="3.60" lengthAdjust="spacingAndGlyphs" >4</text>
<text x="414.00" y="290.31" font-size="9.41" fill="#1a1a1a" stroke="#1a1a1a" stroke-width="0.15" text-anchor="middle" textLength="72.00" lengthAdjust="spacingAndGlyphs" >Cisplatin (Log nM)</text>
<path d="M360.5,229.2 H414.4 M407.3,229.2 V263 M414.4,229.2 V263" stroke="#1a1a1a" stroke-width="1" stroke-dasharray="1.8,1.6" fill="none"/>
<polyline points="359.80,197.35 360.99,197.43 362.19,197.52 363.38,197.62 364.57,197.74 365.77,197.86 366.96,198.00 368.15,198.16 369.35,198.33 370.54,198.53 371.74,198.75 372.93,198.99 374.12,199.26 375.32,199.56 376.51,199.89 377.70,200.26 378.90,200.66 380.09,201.11 381.28,201.61 382.48,202.15 383.67,202.76 384.86,203.41 386.06,204.14 387.25,204.92 388.44,205.78 389.64,206.71 390.83,207.72 392.02,208.81 393.22,209.98 394.41,211.23 395.61,212.56 396.80,213.97 397.99,215.46 399.19,217.02 400.38,218.66 401.57,220.35 402.77,222.10 403.96,223.90 405.15,225.73 406.35,227.58 407.54,229.45 408.73,231.31 409.93,233.16 411.12,234.99 412.31,236.79 413.51,238.54 414.70,240.23 415.89,241.87 417.09,243.43 418.28,244.92 419.48,246.33 420.67,247.66 421.86,248.91 423.06,250.08 424.25,251.17 425.44,252.18 426.64,253.11 427.83,253.97 429.02,254.75 430.22,255.48 431.41,256.13 432.60,256.74 433.80,257.28 434.99,257.78 436.18,258.23 437.38,258.63 438.57,259.00 439.76,259.33 440.96,259.63 442.15,259.90 443.35,260.14 444.54,260.36 445.73,260.56 446.93,260.73 448.12,260.89 449.31,261.03 450.51,261.15 451.70,261.27 452.89,261.37 454.09,261.46 455.28,261.54" fill="none" stroke="#5aa63a" stroke-width="1.5" stroke-linejoin="round" />
<polyline points="359.80,197.46 360.99,197.48 362.19,197.49 363.38,197.51 364.57,197.54 365.77,197.56 366.96,197.59 368.15,197.63 369.35,197.67 370.54,197.71 371.74,197.76 372.93,197.82 374.12,197.89 375.32,197.97 376.51,198.06 377.70,198.16 378.90,198.28 380.09,198.42 381.28,198.57 382.48,198.75 383.67,198.95 384.86,199.19 386.06,199.45 387.25,199.75 388.44,200.09 389.64,200.48 390.83,200.92 392.02,201.42 393.22,201.98 394.41,202.61 395.61,203.32 396.80,204.12 397.99,205.01 399.19,205.99 400.38,207.08 401.57,208.28 402.77,209.60 403.96,211.03 405.15,212.58 406.35,214.24 407.54,216.01 408.73,217.89 409.93,219.86 411.12,221.91 412.31,224.02 413.51,226.18 414.70,228.36 415.89,230.54 417.09,232.71 418.28,234.84 419.48,236.91 420.67,238.91 421.86,240.82 423.06,242.64 424.25,244.34 425.44,245.93 426.64,247.40 427.83,248.76 429.02,250.00 430.22,251.13 431.41,252.16 432.60,253.08 433.80,253.91 434.99,254.65 436.18,255.31 437.38,255.89 438.57,256.42 439.76,256.88 440.96,257.28 442.15,257.64 443.35,257.95 444.54,258.23 445.73,258.47 446.93,258.69 448.12,258.87 449.31,259.04 450.51,259.18 451.70,259.30 452.89,259.41 454.09,259.51 455.28,259.59" fill="none" stroke="#213f7e" stroke-width="1.5" stroke-linejoin="round" />
<line x1="377.16" y1="194.95" x2="377.16" y2="201.85" stroke="#213f7e" stroke-width="0.9" />
<line x1="375.76" y1="194.95" x2="378.56" y2="194.95" stroke="#213f7e" stroke-width="0.9" />
<line x1="375.76" y1="201.85" x2="378.56" y2="201.85" stroke="#213f7e" stroke-width="0.9" />
<circle cx="377.16" cy="198.40" r="1.3" fill="#213f7e" />
<circle cx="391.05" cy="202.19" r="1.3" fill="#213f7e" />
<line x1="403.63" y1="211.85" x2="403.63" y2="214.61" stroke="#213f7e" stroke-width="0.9" />
<line x1="402.23" y1="211.85" x2="405.03" y2="211.85" stroke="#213f7e" stroke-width="0.9" />
<line x1="402.23" y1="214.61" x2="405.03" y2="214.61" stroke="#213f7e" stroke-width="0.9" />
<circle cx="403.63" cy="213.23" r="1.3" fill="#213f7e" />
<line x1="416.22" y1="227.72" x2="416.22" y2="234.62" stroke="#213f7e" stroke-width="0.9" />
<line x1="414.82" y1="227.72" x2="417.62" y2="227.72" stroke="#213f7e" stroke-width="0.9" />
<line x1="414.82" y1="234.62" x2="417.62" y2="234.62" stroke="#213f7e" stroke-width="0.9" />
<circle cx="416.22" cy="231.17" r="1.3" fill="#213f7e" />
<line x1="429.24" y1="249.46" x2="429.24" y2="252.22" stroke="#213f7e" stroke-width="0.9" />
<line x1="427.84" y1="249.46" x2="430.64" y2="249.46" stroke="#213f7e" stroke-width="0.9" />
<line x1="427.84" y1="252.22" x2="430.64" y2="252.22" stroke="#213f7e" stroke-width="0.9" />
<circle cx="429.24" cy="250.84" r="1.3" fill="#213f7e" />
<circle cx="442.26" cy="255.32" r="1.3" fill="#213f7e" />
<circle cx="455.28" cy="258.77" r="1.3" fill="#213f7e" />
<line x1="377.16" y1="197.36" x2="377.16" y2="201.50" stroke="#5aa63a" stroke-width="0.9" />
<line x1="375.76" y1="197.36" x2="378.56" y2="197.36" stroke="#5aa63a" stroke-width="0.9" />
<line x1="375.76" y1="201.50" x2="378.56" y2="201.50" stroke="#5aa63a" stroke-width="0.9" />
<circle cx="377.16" cy="199.43" r="1.3" fill="#5aa63a" />
<line x1="391.05" y1="202.88" x2="391.05" y2="209.78" stroke="#5aa63a" stroke-width="0.9" />
<line x1="389.65" y1="202.88" x2="392.45" y2="202.88" stroke="#5aa63a" stroke-width="0.9" />
<line x1="389.65" y1="209.78" x2="392.45" y2="209.78" stroke="#5aa63a" stroke-width="0.9" />
<circle cx="391.05" cy="206.33" r="1.3" fill="#5aa63a" />
<line x1="403.63" y1="219.44" x2="403.63" y2="222.20" stroke="#5aa63a" stroke-width="0.9" />
<line x1="402.23" y1="219.44" x2="405.03" y2="219.44" stroke="#5aa63a" stroke-width="0.9" />
<line x1="402.23" y1="222.20" x2="405.03" y2="222.20" stroke="#5aa63a" stroke-width="0.9" />
<circle cx="403.63" cy="220.82" r="1.3" fill="#5aa63a" />
<line x1="416.22" y1="238.76" x2="416.22" y2="241.52" stroke="#5aa63a" stroke-width="0.9" />
<line x1="414.82" y1="238.76" x2="417.62" y2="238.76" stroke="#5aa63a" stroke-width="0.9" />
<line x1="414.82" y1="241.52" x2="417.62" y2="241.52" stroke="#5aa63a" stroke-width="0.9" />
<circle cx="416.22" cy="240.14" r="1.3" fill="#5aa63a" />
<line x1="429.24" y1="251.18" x2="429.24" y2="256.70" stroke="#5aa63a" stroke-width="0.9" />
<line x1="427.84" y1="251.18" x2="430.64" y2="251.18" stroke="#5aa63a" stroke-width="0.9" />
<line x1="427.84" y1="256.70" x2="430.64" y2="256.70" stroke="#5aa63a" stroke-width="0.9" />
<circle cx="429.24" cy="253.94" r="1.3" fill="#5aa63a" />
<circle cx="442.26" cy="259.46" r="1.3" fill="#5aa63a" />
<circle cx="455.28" cy="261.19" r="1.3" fill="#5aa63a" />
<line x1="419.40" y1="194.70" x2="426.00" y2="194.70" stroke="#213f7e" stroke-width="1.2" />
<path d="M422.7,192.8 L425.1,194.7 L422.7,196.6 L420.3,194.7 Z" fill="#213f7e"/>
<line x1="419.40" y1="202.30" x2="426.00" y2="202.30" stroke="#5aa63a" stroke-width="1.2" />
<path d="M422.7,200.4 L425.1,202.3 L422.7,204.2 L420.3,202.3 Z" fill="#5aa63a"/>
<text x="428.40" y="196.96" font-size="7.22" fill="#1a1a1a" stroke="#1a1a1a" stroke-width="0.15" textLength="47.50" lengthAdjust="spacingAndGlyphs" >PPM1D mutant</text>
<text x="428.40" y="204.56" font-size="7.51" fill="#1a1a1a" stroke="#1a1a1a" stroke-width="0.15" textLength="23.50" lengthAdjust="spacingAndGlyphs" >Control</text>
<text x="433.50" y="224.45" font-size="7.46" fill="#1a1a1a" stroke="#1a1a1a" stroke-width="0.15" textLength="41.50" lengthAdjust="spacingAndGlyphs" >* = p&lt;0.0001</text>
<text x="7.60" y="316.30" font-size="10" fill="#1a1a1a" stroke="#1a1a1a" stroke-width="0.15" >F</text>
<text x="20.00" y="366.40" font-size="8.88" fill="#1a1a1a" stroke="#1a1a1a" stroke-width="0.15" text-anchor="middle" textLength="85.70" lengthAdjust="spacingAndGlyphs" transform="rotate(-90 20.00 366.40)" >% PPM1D mutant cells</text>
<line x1="44.80" y1="334.20" x2="44.80" y2="404.20" stroke="#1a1a1a" stroke-width="1.4" />
<line x1="44.20" y1="404.20" x2="145.00" y2="404.20" stroke="#1a1a1a" stroke-width="1.4" />
<line x1="42.00" y1="336.70" x2="44.80" y2="336.70" stroke="#1a1a1a" stroke-width="0.9" />
<text x="38.80" y="339.07" font-size="7.9" fill="#1a1a1a" stroke="#1a1a1a" stroke-width="0.15" text-anchor="end" textLength="11.60" lengthAdjust="spacingAndGlyphs" >100</text>
<line x1="42.00" y1="370.40" x2="44.80" y2="370.40" stroke="#1a1a1a" stroke-width="0.9" />
<text x="38.80" y="372.77" font-size="7.9" fill="#1a1a1a" stroke="#1a1a1a" stroke-width="0.15" text-anchor="end" textLength="7.80" lengthAdjust="spacingAndGlyphs" >50</text>
<line x1="42.00" y1="404.10" x2="44.80" y2="404.10" stroke="#1a1a1a" stroke-width="0.9" />
<text x="38.80" y="406.47" font-size="7.9" fill="#1a1a1a" stroke="#1a1a1a" stroke-width="0.15" text-anchor="end" textLength="4.00" lengthAdjust="spacingAndGlyphs" >0</text>
<line x1="44.80" y1="404.20" x2="44.80" y2="406.80" stroke="#1a1a1a" stroke-width="0.9" />
<text x="44.80" y="417.90" font-size="8.0" fill="#1a1a1a" stroke="#1a1a1a" stroke-width="0.15" text-anchor="middle" textLength="3.80" lengthAdjust="spacingAndGlyphs" >0</text>
<line x1="65.55" y1="404.20" x2="65.55" y2="406.80" stroke="#1a1a1a" stroke-width="0.9" />
<text x="65.55" y="417.90" font-size="8.0" fill="#1a1a1a" stroke="#1a1a1a" stroke-width="0.15" text-anchor="middle" textLength="3.80" lengthAdjust="spacingAndGlyphs" >5</text>
<line x1="86.30" y1="404.20" x2="86.30" y2="406.80" stroke="#1a1a1a" stroke-width="0.9" />
<text x="86.30" y="417.90" font-size="8.0" fill="#1a1a1a" stroke="#1a1a1a" stroke-width="0.15" text-anchor="middle" textLength="8.20" lengthAdjust="spacingAndGlyphs" >10</text>
<line x1="107.05" y1="404.20" x2="107.05" y2="406.80" stroke="#1a1a1a" stroke-width="0.9" />
<text x="107.05" y="417.90" font-size="8.0" fill="#1a1a1a" stroke="#1a1a1a" stroke-width="0.15" text-anchor="middle" textLength="8.20" lengthAdjust="spacingAndGlyphs" >15</text>
<line x1="127.80" y1="404.20" x2="127.80" y2="406.80" stroke="#1a1a1a" stroke-width="0.9" />
<text x="127.80" y="417.90" font-size="8.0" fill="#1a1a1a" stroke="#1a1a1a" stroke-width="0.15" text-anchor="middle" textLength="8.20" lengthAdjust="spacingAndGlyphs" >20</text>
<text x="94.30" y="430.31" font-size="9.54" fill="#1a1a1a" stroke="#1a1a1a" stroke-width="0.15" text-anchor="middle" textLength="71.00" lengthAdjust="spacingAndGlyphs" >Days of treatment</text>
<polyline points="44.80,402.30 61.40,402.80 78.00,403.10 94.60,403.30 111.20,403.40 127.80,403.50 144.40,403.50" fill="none" stroke="#5aa63a" stroke-width="1.5" stroke-linejoin="round" />
<polyline points="44.80,401.90 61.40,401.20 78.00,399.50 94.60,390.30 111.20,351.10 127.80,341.80 144.40,338.80" fill="none" stroke="#213f7e" stroke-width="1.5" stroke-linejoin="round" />
<circle cx="44.80" cy="402.30" r="1.9" fill="#5aa63a" />
<circle cx="61.40" cy="402.80" r="1.9" fill="#5aa63a" />
<circle cx="78.00" cy="403.10" r="1.9" fill="#5aa63a" />
<circle cx="94.60" cy="403.30" r="1.9" fill="#5aa63a" />
<circle cx="111.20" cy="403.40" r="1.9" fill="#5aa63a" />
<circle cx="127.80" cy="403.50" r="1.9" fill="#5aa63a" />
<circle cx="144.40" cy="403.50" r="1.9" fill="#5aa63a" />
<circle cx="44.80" cy="401.90" r="2.0" fill="#213f7e" />
<circle cx="61.40" cy="401.20" r="2.0" fill="#213f7e" />
<circle cx="78.00" cy="399.50" r="2.0" fill="#213f7e" />
<circle cx="94.60" cy="390.30" r="2.0" fill="#213f7e" />
<circle cx="111.20" cy="351.10" r="2.0" fill="#213f7e" />
<circle cx="127.80" cy="341.80" r="2.0" fill="#213f7e" />
<circle cx="144.40" cy="338.80" r="2.0" fill="#213f7e" />
<path d="M110.0,364.4 L113.3,366.5 L110.0,368.6 L106.7,366.5 Z" fill="#213f7e"/>
<path d="M110.0,375.9 L113.3,378.0 L110.0,380.1 L106.7,378.0 Z" fill="#5aa63a"/>
<text x="115.70" y="368.76" font-size="7.33" fill="#1a1a1a" stroke="#1a1a1a" stroke-width="0.15" textLength="34.40" lengthAdjust="spacingAndGlyphs" >Cytarabine</text>
<text x="115.70" y="380.26" font-size="7.38" fill="#1a1a1a" stroke="#1a1a1a" stroke-width="0.15" textLength="23.10" lengthAdjust="spacingAndGlyphs" >Vehicle</text>
<text x="169.50" y="316.30" font-size="10" fill="#1a1a1a" stroke="#1a1a1a" stroke-width="0.15" >G</text>
<text x="176.70" y="366.40" font-size="8.88" fill="#1a1a1a" stroke="#1a1a1a" stroke-width="0.15" text-anchor="middle" textLength="85.70" lengthAdjust="spacingAndGlyphs" transform="rotate(-90 176.70 366.40)" >% PPM1D mutant cells</text>
<line x1="200.40" y1="334.20" x2="200.40" y2="404.20" stroke="#1a1a1a" stroke-width="1.4" />
<line x1="199.80" y1="404.20" x2="300.60" y2="404.20" stroke="#1a1a1a" stroke-width="1.4" />
<line x1="197.60" y1="336.70" x2="200.40" y2="336.70" stroke="#1a1a1a" stroke-width="0.9" />
<text x="194.90" y="339.07" font-size="7.9" fill="#1a1a1a" stroke="#1a1a1a" stroke-width="0.15" text-anchor="end" textLength="11.60" lengthAdjust="spacingAndGlyphs" >100</text>
<line x1="197.60" y1="370.40" x2="200.40" y2="370.40" stroke="#1a1a1a" stroke-width="0.9" />
<text x="194.90" y="372.77" font-size="7.9" fill="#1a1a1a" stroke="#1a1a1a" stroke-width="0.15" text-anchor="end" textLength="7.80" lengthAdjust="spacingAndGlyphs" >50</text>
<line x1="197.60" y1="404.10" x2="200.40" y2="404.10" stroke="#1a1a1a" stroke-width="0.9" />
<text x="194.90" y="406.47" font-size="7.9" fill="#1a1a1a" stroke="#1a1a1a" stroke-width="0.15" text-anchor="end" textLength="4.00" lengthAdjust="spacingAndGlyphs" >0</text>
<line x1="200.40" y1="404.20" x2="200.40" y2="406.80" stroke="#1a1a1a" stroke-width="0.9" />
<text x="200.40" y="417.90" font-size="8.0" fill="#1a1a1a" stroke="#1a1a1a" stroke-width="0.15" text-anchor="middle" textLength="3.80" lengthAdjust="spacingAndGlyphs" >0</text>
<line x1="221.15" y1="404.20" x2="221.15" y2="406.80" stroke="#1a1a1a" stroke-width="0.9" />
<text x="221.15" y="417.90" font-size="8.0" fill="#1a1a1a" stroke="#1a1a1a" stroke-width="0.15" text-anchor="middle" textLength="3.80" lengthAdjust="spacingAndGlyphs" >5</text>
<line x1="241.90" y1="404.20" x2="241.90" y2="406.80" stroke="#1a1a1a" stroke-width="0.9" />
<text x="241.90" y="417.90" font-size="8.0" fill="#1a1a1a" stroke="#1a1a1a" stroke-width="0.15" text-anchor="middle" textLength="8.20" lengthAdjust="spacingAndGlyphs" >10</text>
<line x1="262.65" y1="404.20" x2="262.65" y2="406.80" stroke="#1a1a1a" stroke-width="0.9" />
<text x="262.65" y="417.90" font-size="8.0" fill="#1a1a1a" stroke="#1a1a1a" stroke-width="0.15" text-anchor="middle" textLength="8.20" lengthAdjust="spacingAndGlyphs" >15</text>
<line x1="283.40" y1="404.20" x2="283.40" y2="406.80" stroke="#1a1a1a" stroke-width="0.9" />
<text x="283.40" y="417.90" font-size="8.0" fill="#1a1a1a" stroke="#1a1a1a" stroke-width="0.15" text-anchor="middle" textLength="8.20" lengthAdjust="spacingAndGlyphs" >20</text>
<text x="249.90" y="430.31" font-size="9.54" fill="#1a1a1a" stroke="#1a1a1a" stroke-width="0.15" text-anchor="middle" textLength="71.00" lengthAdjust="spacingAndGlyphs" >Days of treatment</text>
<polyline points="200.40,400.00 217.00,401.00 233.60,401.20 250.20,401.90 266.80,402.80 283.40,403.00 300.00,403.00" fill="none" stroke="#5aa63a" stroke-width="1.5" stroke-linejoin="round" />
<polyline points="200.40,400.00 217.00,400.00 233.60,389.20 250.20,360.80 266.80,351.10 283.40,345.10 300.00,341.20" fill="none" stroke="#213f7e" stroke-width="1.5" stroke-linejoin="round" />
<circle cx="200.40" cy="400.00" r="1.9" fill="#5aa63a" />
<circle cx="217.00" cy="401.00" r="1.9" fill="#5aa63a" />
<circle cx="233.60" cy="401.20" r="1.9" fill="#5aa63a" />
<circle cx="250.20" cy="401.90" r="1.9" fill="#5aa63a" />
<circle cx="266.80" cy="402.80" r="1.9" fill="#5aa63a" />
<circle cx="283.40" cy="403.00" r="1.9" fill="#5aa63a" />
<circle cx="300.00" cy="403.00" r="1.9" fill="#5aa63a" />
<circle cx="200.40" cy="400.00" r="2.0" fill="#213f7e" />
<circle cx="217.00" cy="400.00" r="2.0" fill="#213f7e" />
<circle cx="233.60" cy="389.20" r="2.0" fill="#213f7e" />
<circle cx="250.20" cy="360.80" r="2.0" fill="#213f7e" />
<circle cx="266.80" cy="351.10" r="2.0" fill="#213f7e" />
<circle cx="283.40" cy="345.10" r="2.0" fill="#213f7e" />
<circle cx="300.00" cy="341.20" r="2.0" fill="#213f7e" />
<path d="M269.3,361.0 L272.6,363.1 L269.3,365.20000000000005 L266.0,363.1 Z" fill="#213f7e"/>
<path d="M269.3,372.5 L272.6,374.6 L269.3,376.70000000000005 L266.0,374.6 Z" fill="#5aa63a"/>
<text x="275.00" y="365.36" font-size="7.25" fill="#1a1a1a" stroke="#1a1a1a" stroke-width="0.15" textLength="27.00" lengthAdjust="spacingAndGlyphs" >Cisplatin</text>
<text x="275.00" y="376.86" font-size="7.38" fill="#1a1a1a" stroke="#1a1a1a" stroke-width="0.15" textLength="23.10" lengthAdjust="spacingAndGlyphs" >Vehicle</text>
<text x="319.60" y="316.70" font-size="10" fill="#1a1a1a" stroke="#1a1a1a" stroke-width="0.15" >H</text>
<text x="337.90" y="367.15" font-size="8.78" fill="#1a1a1a" stroke="#1a1a1a" stroke-width="0.15" text-anchor="middle" textLength="115.10" lengthAdjust="spacingAndGlyphs" transform="rotate(-90 337.90 367.15)" >PPM1D sgRNA / total sgRNAs</text>
<line x1="360.00" y1="329.20" x2="360.00" y2="404.50" stroke="#1a1a1a" stroke-width="1.4" />
<line x1="359.40" y1="404.50" x2="472.40" y2="404.50" stroke="#1a1a1a" stroke-width="1.4" />
<line x1="357.20" y1="331.60" x2="360.00" y2="331.60" stroke="#1a1a1a" stroke-width="0.9" />
<text x="354.60" y="334.47" font-size="7.9" fill="#1a1a1a" stroke="#1a1a1a" stroke-width="0.15" text-anchor="end" textLength="10.00" lengthAdjust="spacingAndGlyphs" >0.4</text>
<line x1="357.20" y1="355.90" x2="360.00" y2="355.90" stroke="#1a1a1a" stroke-width="0.9" />
<text x="354.60" y="358.77" font-size="7.9" fill="#1a1a1a" stroke="#1a1a1a" stroke-width="0.15" text-anchor="end" textLength="10.00" lengthAdjust="spacingAndGlyphs" >0.3</text>
<line x1="357.20" y1="380.20" x2="360.00" y2="380.20" stroke="#1a1a1a" stroke-width="0.9" />
<text x="354.60" y="383.06" font-size="7.9" fill="#1a1a1a" stroke="#1a1a1a" stroke-width="0.15" text-anchor="end" textLength="10.00" lengthAdjust="spacingAndGlyphs" >0.2</text>
<line x1="357.20" y1="404.50" x2="360.00" y2="404.50" stroke="#1a1a1a" stroke-width="0.9" />
<text x="354.60" y="407.37" font-size="7.9" fill="#1a1a1a" stroke="#1a1a1a" stroke-width="0.15" text-anchor="end" textLength="10.00" lengthAdjust="spacingAndGlyphs" >0.1</text>
<line x1="360.00" y1="404.50" x2="360.00" y2="407.10" stroke="#1a1a1a" stroke-width="0.9" />
<text x="360.00" y="417.60" font-size="8.0" fill="#1a1a1a" stroke="#1a1a1a" stroke-width="0.15" text-anchor="middle" textLength="3.70" lengthAdjust="spacingAndGlyphs" >0</text>
<line x1="396.65" y1="404.50" x2="396.65" y2="407.10" stroke="#1a1a1a" stroke-width="0.9" />
<text x="396.65" y="417.60" font-size="8.0" fill="#1a1a1a" stroke="#1a1a1a" stroke-width="0.15" text-anchor="middle" textLength="3.70" lengthAdjust="spacingAndGlyphs" >1</text>
<line x1="433.30" y1="404.50" x2="433.30" y2="407.10" stroke="#1a1a1a" stroke-width="0.9" />
<text x="433.30" y="417.60" font-size="8.0" fill="#1a1a1a" stroke="#1a1a1a" stroke-width="0.15" text-anchor="middle" textLength="3.70" lengthAdjust="spacingAndGlyphs" >2</text>
<line x1="469.95" y1="404.50" x2="469.95" y2="407.10" stroke="#1a1a1a" stroke-width="0.9" />
<text x="469.95" y="417.60" font-size="8.0" fill="#1a1a1a" stroke="#1a1a1a" stroke-width="0.15" text-anchor="middle" textLength="3.70" lengthAdjust="spacingAndGlyphs" >3</text>
<text x="416.20" y="431.21" font-size="9.45" fill="#1a1a1a" stroke="#1a1a1a" stroke-width="0.15" text-anchor="middle" textLength="69.50" lengthAdjust="spacingAndGlyphs" >Treatment course</text>
<text x="397.30" y="323.11" font-size="7.05" fill="#1a1a1a" stroke="#1a1a1a" stroke-width="0.15" textLength="34.60" lengthAdjust="spacingAndGlyphs" >Leukocytes</text>
<line x1="360.00" y1="369.20" x2="360.00" y2="380.10" stroke="#5aa63a" stroke-width="0.9" />
<line x1="358.50" y1="369.20" x2="361.50" y2="369.20" stroke="#5aa63a" stroke-width="0.9" />
<line x1="358.50" y1="380.10" x2="361.50" y2="380.10" stroke="#5aa63a" stroke-width="0.9" />
<line x1="396.65" y1="366.20" x2="396.65" y2="383.80" stroke="#5aa63a" stroke-width="0.9" />
<line x1="395.15" y1="366.20" x2="398.15" y2="366.20" stroke="#5aa63a" stroke-width="0.9" />
<line x1="395.15" y1="383.80" x2="398.15" y2="383.80" stroke="#5aa63a" stroke-width="0.9" />
<line x1="433.30" y1="375.60" x2="433.30" y2="391.10" stroke="#5aa63a" stroke-width="0.9" />
<line x1="431.80" y1="375.60" x2="434.80" y2="375.60" stroke="#5aa63a" stroke-width="0.9" />
<line x1="431.80" y1="391.10" x2="434.80" y2="391.10" stroke="#5aa63a" stroke-width="0.9" />
<line x1="469.95" y1="372.30" x2="469.95" y2="390.00" stroke="#5aa63a" stroke-width="0.9" />
<line x1="468.45" y1="372.30" x2="471.45" y2="372.30" stroke="#5aa63a" stroke-width="0.9" />
<line x1="468.45" y1="390.00" x2="471.45" y2="390.00" stroke="#5aa63a" stroke-width="0.9" />
<line x1="360.00" y1="365.80" x2="360.00" y2="376.20" stroke="#2a4f8e" stroke-width="0.9" />
<line x1="358.50" y1="365.80" x2="361.50" y2="365.80" stroke="#2a4f8e" stroke-width="0.9" />
<line x1="358.50" y1="376.20" x2="361.50" y2="376.20" stroke="#2a4f8e" stroke-width="0.9" />
<line x1="396.65" y1="353.00" x2="396.65" y2="367.60" stroke="#2a4f8e" stroke-width="0.9" />
<line x1="395.15" y1="353.00" x2="398.15" y2="353.00" stroke="#2a4f8e" stroke-width="0.9" />
<line x1="395.15" y1="367.60" x2="398.15" y2="367.60" stroke="#2a4f8e" stroke-width="0.9" />
<line x1="433.30" y1="345.00" x2="433.30" y2="363.90" stroke="#2a4f8e" stroke-width="0.9" />
<line x1="431.80" y1="345.00" x2="434.80" y2="345.00" stroke="#2a4f8e" stroke-width="0.9" />
<line x1="431.80" y1="363.90" x2="434.80" y2="363.90" stroke="#2a4f8e" stroke-width="0.9" />
<line x1="469.95" y1="342.90" x2="469.95" y2="360.00" stroke="#2a4f8e" stroke-width="0.9" />
<line x1="468.45" y1="342.90" x2="471.45" y2="342.90" stroke="#2a4f8e" stroke-width="0.9" />
<line x1="468.45" y1="360.00" x2="471.45" y2="360.00" stroke="#2a4f8e" stroke-width="0.9" />
<polyline points="360.00,374.30 396.65,375.00 433.30,383.50 469.95,381.30" fill="none" stroke="#5aa63a" stroke-width="1.5" stroke-linejoin="round" />
<polyline points="360.00,371.10 396.65,360.50 433.30,354.40 469.95,351.30" fill="none" stroke="#213f7e" stroke-width="1.5" stroke-linejoin="round" />
<circle cx="360.00" cy="374.30" r="1.3" fill="#5aa63a" />
<circle cx="360.00" cy="371.10" r="1.3" fill="#213f7e" />
<circle cx="396.65" cy="375.00" r="1.3" fill="#5aa63a" />
<circle cx="396.65" cy="360.50" r="1.3" fill="#213f7e" />
<circle cx="433.30" cy="383.50" r="1.3" fill="#5aa63a" />
<circle cx="433.30" cy="354.40" r="1.3" fill="#213f7e" />
<circle cx="469.95" cy="381.30" r="1.3" fill="#5aa63a" />
<circle cx="469.95" cy="351.30" r="1.3" fill="#213f7e" />
<line x1="468.00" y1="328.90" x2="474.80" y2="328.90" stroke="#213f7e" stroke-width="1.2" />
<path d="M471.4,326.9 L473.79999999999995,328.9 L471.4,330.9 L469.0,328.9 Z" fill="#213f7e"/>
<line x1="468.00" y1="337.50" x2="474.80" y2="337.50" stroke="#5aa63a" stroke-width="1.2" />
<path d="M471.4,335.5 L473.79999999999995,337.5 L471.4,339.5 L469.0,337.5 Z" fill="#5aa63a"/>
<text x="477.40" y="331.16" font-size="7.24" fill="#1a1a1a" stroke="#1a1a1a" stroke-width="0.15" textLength="34.00" lengthAdjust="spacingAndGlyphs" >Cytarabine</text>
<text x="477.40" y="339.76" font-size="7.22" fill="#1a1a1a" stroke="#1a1a1a" stroke-width="0.15" textLength="22.60" lengthAdjust="spacingAndGlyphs" >Vehicle</text>
<path d="M473.00,353.10 H474.60 V380.30 H473.00" stroke="#1a1a1a" stroke-width="1" fill="none"/>
<text x="478.90" y="367.75" font-size="7.24" fill="#1a1a1a" stroke="#1a1a1a" stroke-width="0.15" textLength="25.60" lengthAdjust="spacingAndGlyphs" >p=0.009</text>
<text x="8.20" y="457.40" font-size="10" fill="#1a1a1a" stroke="#1a1a1a" stroke-width="0.15" >I</text>
<text x="23.00" y="513.90" font-size="8.73" fill="#1a1a1a" stroke="#1a1a1a" stroke-width="0.15" text-anchor="middle" textLength="118.20" lengthAdjust="spacingAndGlyphs" transform="rotate(-90 23.00 513.90)" >PPM1D sgRNAs/ total sgRNAS</text>
<line x1="44.30" y1="478.20" x2="44.30" y2="551.00" stroke="#1a1a1a" stroke-width="1.4" />
<line x1="43.70" y1="551.00" x2="150.90" y2="551.00" stroke="#1a1a1a" stroke-width="1.4" />
<line x1="41.50" y1="479.90" x2="44.30" y2="479.90" stroke="#1a1a1a" stroke-width="0.9" />
<text x="38.90" y="482.76" font-size="7.9" fill="#1a1a1a" stroke="#1a1a1a" stroke-width="0.15" text-anchor="end" textLength="10.00" lengthAdjust="spacingAndGlyphs" >0.4</text>
<line x1="41.50" y1="503.60" x2="44.30" y2="503.60" stroke="#1a1a1a" stroke-width="0.9" />
<text x="38.90" y="506.46" font-size="7.9" fill="#1a1a1a" stroke="#1a1a1a" stroke-width="0.15" text-anchor="end" textLength="10.00" lengthAdjust="spacingAndGlyphs" >0.3</text>
<line x1="41.50" y1="527.30" x2="44.30" y2="527.30" stroke="#1a1a1a" stroke-width="0.9" />
<text x="38.90" y="530.16" font-size="7.9" fill="#1a1a1a" stroke="#1a1a1a" stroke-width="0.15" text-anchor="end" textLength="10.00" lengthAdjust="spacingAndGlyphs" >0.2</text>
<line x1="41.50" y1="551.00" x2="44.30" y2="551.00" stroke="#1a1a1a" stroke-width="0.9" />
<text x="38.90" y="553.87" font-size="7.9" fill="#1a1a1a" stroke="#1a1a1a" stroke-width="0.15" text-anchor="end" textLength="10.00" lengthAdjust="spacingAndGlyphs" >0.1</text>
<line x1="44.30" y1="551.00" x2="44.30" y2="553.60" stroke="#1a1a1a" stroke-width="0.9" />
<text x="44.30" y="563.50" font-size="8.0" fill="#1a1a1a" stroke="#1a1a1a" stroke-width="0.15" text-anchor="middle" textLength="3.70" lengthAdjust="spacingAndGlyphs" >0</text>
<line x1="79.20" y1="551.00" x2="79.20" y2="553.60" stroke="#1a1a1a" stroke-width="0.9" />
<text x="79.20" y="563.50" font-size="8.0" fill="#1a1a1a" stroke="#1a1a1a" stroke-width="0.15" text-anchor="middle" textLength="3.70" lengthAdjust="spacingAndGlyphs" >1</text>
<line x1="114.10" y1="551.00" x2="114.10" y2="553.60" stroke="#1a1a1a" stroke-width="0.9" />
<text x="114.10" y="563.50" font-size="8.0" fill="#1a1a1a" stroke="#1a1a1a" stroke-width="0.15" text-anchor="middle" textLength="3.70" lengthAdjust="spacingAndGlyphs" >2</text>
<line x1="149.00" y1="551.00" x2="149.00" y2="553.60" stroke="#1a1a1a" stroke-width="0.9" />
<text x="149.00" y="563.50" font-size="8.0" fill="#1a1a1a" stroke="#1a1a1a" stroke-width="0.15" text-anchor="middle" textLength="3.70" lengthAdjust="spacingAndGlyphs" >3</text>
<text x="98.30" y="577.81" font-size="9.45" fill="#1a1a1a" stroke="#1a1a1a" stroke-width="0.15" text-anchor="middle" textLength="69.50" lengthAdjust="spacingAndGlyphs" >Treatment course</text>
<text x="77.70" y="471.81" font-size="7.34" fill="#1a1a1a" stroke="#1a1a1a" stroke-width="0.15" textLength="41.70" lengthAdjust="spacingAndGlyphs" >Lymphocytes</text>
<line x1="44.30" y1="517.00" x2="44.30" y2="528.50" stroke="#5aa63a" stroke-width="0.9" />
<line x1="42.80" y1="517.00" x2="45.80" y2="517.00" stroke="#5aa63a" stroke-width="0.9" />
<line x1="42.80" y1="528.50" x2="45.80" y2="528.50" stroke="#5aa63a" stroke-width="0.9" />
<line x1="79.20" y1="517.90" x2="79.20" y2="534.00" stroke="#5aa63a" stroke-width="0.9" />
<line x1="77.70" y1="517.90" x2="80.70" y2="517.90" stroke="#5aa63a" stroke-width="0.9" />
<line x1="77.70" y1="534.00" x2="80.70" y2="534.00" stroke="#5aa63a" stroke-width="0.9" />
<line x1="114.10" y1="521.40" x2="114.10" y2="536.20" stroke="#5aa63a" stroke-width="0.9" />
<line x1="112.60" y1="521.40" x2="115.60" y2="521.40" stroke="#5aa63a" stroke-width="0.9" />
<line x1="112.60" y1="536.20" x2="115.60" y2="536.20" stroke="#5aa63a" stroke-width="0.9" />
<line x1="149.00" y1="525.90" x2="149.00" y2="540.80" stroke="#5aa63a" stroke-width="0.9" />
<line x1="147.50" y1="525.90" x2="150.50" y2="525.90" stroke="#5aa63a" stroke-width="0.9" />
<line x1="147.50" y1="540.80" x2="150.50" y2="540.80" stroke="#5aa63a" stroke-width="0.9" />
<line x1="44.30" y1="516.80" x2="44.30" y2="528.00" stroke="#2a4f8e" stroke-width="0.9" />
<line x1="42.80" y1="516.80" x2="45.80" y2="516.80" stroke="#2a4f8e" stroke-width="0.9" />
<line x1="42.80" y1="528.00" x2="45.80" y2="528.00" stroke="#2a4f8e" stroke-width="0.9" />
<line x1="79.20" y1="508.70" x2="79.20" y2="518.70" stroke="#2a4f8e" stroke-width="0.9" />
<line x1="77.70" y1="508.70" x2="80.70" y2="508.70" stroke="#2a4f8e" stroke-width="0.9" />
<line x1="77.70" y1="518.70" x2="80.70" y2="518.70" stroke="#2a4f8e" stroke-width="0.9" />
<line x1="114.10" y1="500.30" x2="114.10" y2="514.60" stroke="#2a4f8e" stroke-width="0.9" />
<line x1="112.60" y1="500.30" x2="115.60" y2="500.30" stroke="#2a4f8e" stroke-width="0.9" />
<line x1="112.60" y1="514.60" x2="115.60" y2="514.60" stroke="#2a4f8e" stroke-width="0.9" />
<line x1="149.00" y1="507.60" x2="149.00" y2="519.40" stroke="#2a4f8e" stroke-width="0.9" />
<line x1="147.50" y1="507.60" x2="150.50" y2="507.60" stroke="#2a4f8e" stroke-width="0.9" />
<line x1="147.50" y1="519.40" x2="150.50" y2="519.40" stroke="#2a4f8e" stroke-width="0.9" />
<polyline points="44.30,522.70 79.20,526.20 114.10,528.90 149.00,533.40" fill="none" stroke="#5aa63a" stroke-width="1.5" stroke-linejoin="round" />
<polyline points="44.30,522.20 79.20,513.80 114.10,507.40 149.00,513.70" fill="none" stroke="#213f7e" stroke-width="1.5" stroke-linejoin="round" />
<circle cx="44.30" cy="522.70" r="1.3" fill="#5aa63a" />
<circle cx="44.30" cy="522.20" r="1.3" fill="#213f7e" />
<circle cx="79.20" cy="526.20" r="1.3" fill="#5aa63a" />
<circle cx="79.20" cy="513.80" r="1.3" fill="#213f7e" />
<circle cx="114.10" cy="528.90" r="1.3" fill="#5aa63a" />
<circle cx="114.10" cy="507.40" r="1.3" fill="#213f7e" />
<circle cx="149.00" cy="533.40" r="1.3" fill="#5aa63a" />
<circle cx="149.00" cy="513.70" r="1.3" fill="#213f7e" />
<line x1="140.10" y1="471.50" x2="146.90" y2="471.50" stroke="#213f7e" stroke-width="1.2" />
<path d="M143.5,469.5 L145.9,471.5 L143.5,473.5 L141.1,471.5 Z" fill="#213f7e"/>
<line x1="140.10" y1="481.50" x2="146.90" y2="481.50" stroke="#5aa63a" stroke-width="1.2" />
<path d="M143.5,479.5 L145.9,481.5 L143.5,483.5 L141.1,481.5 Z" fill="#5aa63a"/>
<text x="149.50" y="473.76" font-size="7.24" fill="#1a1a1a" stroke="#1a1a1a" stroke-width="0.15" textLength="34.00" lengthAdjust="spacingAndGlyphs" >Cytarabine</text>
<text x="149.50" y="483.76" font-size="7.22" fill="#1a1a1a" stroke="#1a1a1a" stroke-width="0.15" textLength="22.60" lengthAdjust="spacingAndGlyphs" >Vehicle</text>
<path d="M154.30,516.70 H155.90 V534.50 H154.30" stroke="#1a1a1a" stroke-width="1" fill="none"/>
<text x="159.00" y="526.65" font-size="7.27" fill="#1a1a1a" stroke="#1a1a1a" stroke-width="0.15" textLength="25.70" lengthAdjust="spacingAndGlyphs" >p=0.029</text>
<text x="200.80" y="457.80" font-size="10" fill="#1a1a1a" stroke="#1a1a1a" stroke-width="0.15" >J</text>
<text x="221.70" y="514.75" font-size="8.71" fill="#1a1a1a" stroke="#1a1a1a" stroke-width="0.15" text-anchor="middle" textLength="118.90" lengthAdjust="spacingAndGlyphs" transform="rotate(-90 221.70 514.75)" >PPM1D sgRNAs / total sgRNAs</text>
<line x1="244.20" y1="480.60" x2="244.20" y2="550.70" stroke="#1a1a1a" stroke-width="1.4" />
<line x1="243.60" y1="550.70" x2="349.00" y2="550.70" stroke="#1a1a1a" stroke-width="1.4" />
<line x1="241.40" y1="483.10" x2="244.20" y2="483.10" stroke="#1a1a1a" stroke-width="0.9" />
<text x="238.80" y="485.97" font-size="7.9" fill="#1a1a1a" stroke="#1a1a1a" stroke-width="0.15" text-anchor="end" textLength="10.00" lengthAdjust="spacingAndGlyphs" >0.4</text>
<line x1="241.40" y1="505.63" x2="244.20" y2="505.63" stroke="#1a1a1a" stroke-width="0.9" />
<text x="238.80" y="508.50" font-size="7.9" fill="#1a1a1a" stroke="#1a1a1a" stroke-width="0.15" text-anchor="end" textLength="10.00" lengthAdjust="spacingAndGlyphs" >0.3</text>
<line x1="241.40" y1="528.17" x2="244.20" y2="528.17" stroke="#1a1a1a" stroke-width="0.9" />
<text x="238.80" y="531.03" font-size="7.9" fill="#1a1a1a" stroke="#1a1a1a" stroke-width="0.15" text-anchor="end" textLength="10.00" lengthAdjust="spacingAndGlyphs" >0.2</text>
<line x1="241.40" y1="550.70" x2="244.20" y2="550.70" stroke="#1a1a1a" stroke-width="0.9" />
<text x="238.80" y="553.57" font-size="7.9" fill="#1a1a1a" stroke="#1a1a1a" stroke-width="0.15" text-anchor="end" textLength="10.00" lengthAdjust="spacingAndGlyphs" >0.1</text>
<line x1="244.20" y1="550.70" x2="244.20" y2="553.30" stroke="#1a1a1a" stroke-width="0.9" />
<text x="244.20" y="563.50" font-size="8.0" fill="#1a1a1a" stroke="#1a1a1a" stroke-width="0.15" text-anchor="middle" textLength="3.70" lengthAdjust="spacingAndGlyphs" >0</text>
<line x1="278.27" y1="550.70" x2="278.27" y2="553.30" stroke="#1a1a1a" stroke-width="0.9" />
<text x="278.27" y="563.50" font-size="8.0" fill="#1a1a1a" stroke="#1a1a1a" stroke-width="0.15" text-anchor="middle" textLength="3.70" lengthAdjust="spacingAndGlyphs" >1</text>
<line x1="312.34" y1="550.70" x2="312.34" y2="553.30" stroke="#1a1a1a" stroke-width="0.9" />
<text x="312.34" y="563.50" font-size="8.0" fill="#1a1a1a" stroke="#1a1a1a" stroke-width="0.15" text-anchor="middle" textLength="3.70" lengthAdjust="spacingAndGlyphs" >2</text>
<line x1="346.41" y1="550.70" x2="346.41" y2="553.30" stroke="#1a1a1a" stroke-width="0.9" />
<text x="346.41" y="563.50" font-size="8.0" fill="#1a1a1a" stroke="#1a1a1a" stroke-width="0.15" text-anchor="middle" textLength="3.70" lengthAdjust="spacingAndGlyphs" >3</text>
<text x="296.30" y="577.51" font-size="9.45" fill="#1a1a1a" stroke="#1a1a1a" stroke-width="0.15" text-anchor="middle" textLength="69.50" lengthAdjust="spacingAndGlyphs" >Treatment course</text>
<text x="279.80" y="474.91" font-size="7.29" fill="#1a1a1a" stroke="#1a1a1a" stroke-width="0.15" textLength="34.20" lengthAdjust="spacingAndGlyphs" >Monocytes</text>
<line x1="244.20" y1="520.00" x2="244.20" y2="534.10" stroke="#5aa63a" stroke-width="0.9" />
<line x1="242.70" y1="520.00" x2="245.70" y2="520.00" stroke="#5aa63a" stroke-width="0.9" />
<line x1="242.70" y1="534.10" x2="245.70" y2="534.10" stroke="#5aa63a" stroke-width="0.9" />
<line x1="278.27" y1="510.20" x2="278.27" y2="531.70" stroke="#5aa63a" stroke-width="0.9" />
<line x1="276.77" y1="510.20" x2="279.77" y2="510.20" stroke="#5aa63a" stroke-width="0.9" />
<line x1="276.77" y1="531.70" x2="279.77" y2="531.70" stroke="#5aa63a" stroke-width="0.9" />
<line x1="312.34" y1="524.50" x2="312.34" y2="541.70" stroke="#5aa63a" stroke-width="0.9" />
<line x1="310.84" y1="524.50" x2="313.84" y2="524.50" stroke="#5aa63a" stroke-width="0.9" />
<line x1="310.84" y1="541.70" x2="313.84" y2="541.70" stroke="#5aa63a" stroke-width="0.9" />
<line x1="346.41" y1="522.30" x2="346.41" y2="539.00" stroke="#5aa63a" stroke-width="0.9" />
<line x1="344.91" y1="522.30" x2="347.91" y2="522.30" stroke="#5aa63a" stroke-width="0.9" />
<line x1="344.91" y1="539.00" x2="347.91" y2="539.00" stroke="#5aa63a" stroke-width="0.9" />
<line x1="244.20" y1="514.40" x2="244.20" y2="526.70" stroke="#2a4f8e" stroke-width="0.9" />
<line x1="242.70" y1="514.40" x2="245.70" y2="514.40" stroke="#2a4f8e" stroke-width="0.9" />
<line x1="242.70" y1="526.70" x2="245.70" y2="526.70" stroke="#2a4f8e" stroke-width="0.9" />
<line x1="278.27" y1="497.20" x2="278.27" y2="519.00" stroke="#2a4f8e" stroke-width="0.9" />
<line x1="276.77" y1="497.20" x2="279.77" y2="497.20" stroke="#2a4f8e" stroke-width="0.9" />
<line x1="276.77" y1="519.00" x2="279.77" y2="519.00" stroke="#2a4f8e" stroke-width="0.9" />
<line x1="312.34" y1="489.20" x2="312.34" y2="514.80" stroke="#2a4f8e" stroke-width="0.9" />
<line x1="310.84" y1="489.20" x2="313.84" y2="489.20" stroke="#2a4f8e" stroke-width="0.9" />
<line x1="310.84" y1="514.80" x2="313.84" y2="514.80" stroke="#2a4f8e" stroke-width="0.9" />
<line x1="346.41" y1="486.00" x2="346.41" y2="510.20" stroke="#2a4f8e" stroke-width="0.9" />
<line x1="344.91" y1="486.00" x2="347.91" y2="486.00" stroke="#2a4f8e" stroke-width="0.9" />
<line x1="344.91" y1="510.20" x2="347.91" y2="510.20" stroke="#2a4f8e" stroke-width="0.9" />
<polyline points="244.20,526.30 278.27,521.00 312.34,533.10 346.41,530.40" fill="none" stroke="#5aa63a" stroke-width="1.5" stroke-linejoin="round" />
<polyline points="244.20,520.60 278.27,508.00 312.34,501.60 346.41,497.50" fill="none" stroke="#213f7e" stroke-width="1.5" stroke-linejoin="round" />
<circle cx="244.20" cy="526.30" r="1.3" fill="#5aa63a" />
<circle cx="244.20" cy="520.60" r="1.3" fill="#213f7e" />
<circle cx="278.27" cy="521.00" r="1.3" fill="#5aa63a" />
<circle cx="278.27" cy="508.00" r="1.3" fill="#213f7e" />
<circle cx="312.34" cy="533.10" r="1.3" fill="#5aa63a" />
<circle cx="312.34" cy="501.60" r="1.3" fill="#213f7e" />
<circle cx="346.41" cy="530.40" r="1.3" fill="#5aa63a" />
<circle cx="346.41" cy="497.50" r="1.3" fill="#213f7e" />
<line x1="359.90" y1="471.50" x2="366.70" y2="471.50" stroke="#213f7e" stroke-width="1.2" />
<path d="M363.3,469.5 L365.7,471.5 L363.3,473.5 L360.90000000000003,471.5 Z" fill="#213f7e"/>
<line x1="359.90" y1="481.50" x2="366.70" y2="481.50" stroke="#5aa63a" stroke-width="1.2" />
<path d="M363.3,479.5 L365.7,481.5 L363.3,483.5 L360.90000000000003,481.5 Z" fill="#5aa63a"/>
<text x="369.30" y="473.76" font-size="7.24" fill="#1a1a1a" stroke="#1a1a1a" stroke-width="0.15" textLength="34.00" lengthAdjust="spacingAndGlyphs" >Cytarabine</text>
<text x="369.30" y="483.76" font-size="7.22" fill="#1a1a1a" stroke="#1a1a1a" stroke-width="0.15" textLength="22.60" lengthAdjust="spacingAndGlyphs" >Vehicle</text>
<path d="M350.90,498.10 H352.50 V530.90 H350.90" stroke="#1a1a1a" stroke-width="1" fill="none"/>
<text x="355.00" y="515.55" font-size="7.3" fill="#1a1a1a" stroke="#1a1a1a" stroke-width="0.15" textLength="25.80" lengthAdjust="spacingAndGlyphs" >p=0.029</text>
<path d="M0.6,0.5 H519.4 V582.9 H0.6 Z" fill="none" stroke="#2b2b2b" stroke-width="1.3"/>
<rect x="0" y="582" width="520" height="2" fill="#2b2b2b"/>
</svg>
</body></html>
